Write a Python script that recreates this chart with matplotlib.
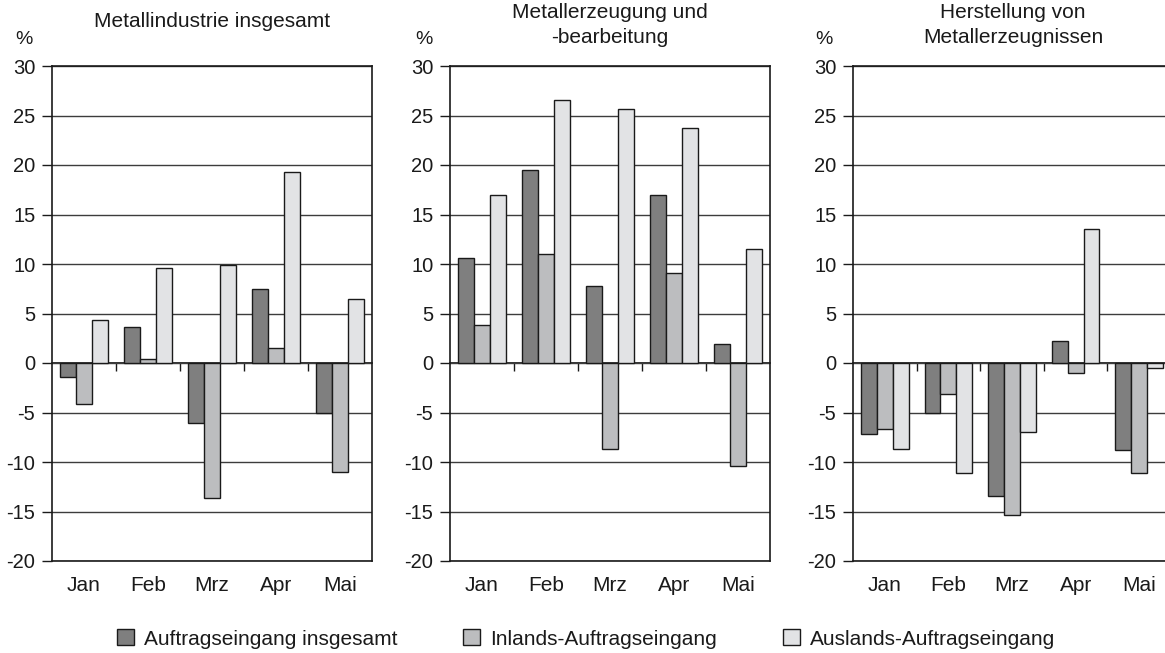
import numpy as np
import matplotlib
matplotlib.use("Agg")
import matplotlib.pyplot as plt
from matplotlib.patches import Patch

plt.rcParams['font.family'] = ['Liberation Sans', 'DejaVu Sans']
plt.rcParams['text.color'] = '#1a1a1a'
plt.rcParams['axes.unicode_minus'] = False

# --- Daten -----------------------------------------------------------
monate = ['Jan', 'Feb', 'Mrz', 'Apr', 'Mai']
serien = ['Auftragseingang insgesamt', 'Inlands-Auftragseingang', 'Auslands-Auftragseingang']
titel = ['Metallindustrie insgesamt',
         'Metallerzeugung und\n-bearbeitung',
         'Herstellung von\nMetallerzeugnissen']

# Metallindustrie insgesamt
p1_gesamt = [-1.4, 3.6, -6.1, 7.5, -5.1]
p1_inland = [-4.1, 0.4, -13.6, 1.5, -11.0]
p1_ausland = [4.3, 9.6, 9.9, 19.3, 6.5]

# Metallerzeugung und -bearbeitung
p2_gesamt = [10.6, 19.5, 7.8, 17.0, 1.9]
p2_inland = [3.8, 11.0, -8.7, 9.1, -10.4]
p2_ausland = [17.0, 26.6, 25.7, 23.7, 11.5]

# Herstellung von Metallerzeugnissen
p3_gesamt = [-7.2, -5.1, -13.4, 2.2, -8.8]
p3_inland = [-6.7, -3.1, -15.4, -1.0, -11.1]
p3_ausland = [-8.7, -11.1, -7.0, 13.5, -0.5]

panels = [(p1_gesamt, p1_inland, p1_ausland),
          (p2_gesamt, p2_inland, p2_ausland),
          (p3_gesamt, p3_inland, p3_ausland)]

farben = ['#7f7f7f', '#bcbdbf', '#e2e3e5']

# --- Figur -----------------------------------------------------------
W, H = 1165, 653
fig = plt.figure(figsize=(W / 100, H / 100), dpi=100)

lefts = [52, 450, 853]
breite = [320, 320, 318]
titel_top = [12, 3, 3]
prozent_x = [24, 424, 824]

x = np.arange(len(monate))
bw = 0.25

for i, (daten, tt) in enumerate(zip(panels, titel)):
    ax = fig.add_axes([lefts[i] / W, 1 - 561 / H, breite[i] / W, 495 / H])
    ax.set_axisbelow(True)
    for k, werte in enumerate(daten):
        ax.bar(x + (k - 1) * bw, werte, width=bw, color=farben[k],
               edgecolor='#1a1a1a', linewidth=1.0, zorder=2)

    ax.set_xlim(-0.5, len(monate) - 0.5)
    ax.set_ylim(-20, 30)
    ax.set_yticks(np.arange(-20, 31, 5))
    ax.yaxis.grid(True, color='#3c3c3c', linewidth=1.0)
    ax.set_xticks(x)
    ax.set_xticklabels(monate)
    ax.tick_params(axis='x', length=0, pad=11, labelsize=15, colors='#1a1a1a')
    ax.tick_params(axis='y', length=7, width=1.0, pad=5, labelsize=14.5,
                   colors='#1a1a1a')
    for s in ax.spines.values():
        s.set_color('#1a1a1a')
        s.set_linewidth(1.2)

    # Nulllinie mit Trennstrichen zwischen den Monaten
    sec = ax.secondary_xaxis(0.4)
    sec.set_xticks(x[:-1] + 0.5)
    sec.set_xticklabels([])
    sec.tick_params(axis='x', direction='out', length=6, width=1.0, color='#1a1a1a')
    sec.spines['bottom'].set_color('#111111')
    sec.spines['bottom'].set_linewidth(1.2)

    fig.text((lefts[i] + 160) / W, 1 - titel_top[i] / H, tt,
             ha='center', va='top', fontsize=15, linespacing=1.4)
    fig.text(prozent_x[i] / W, 1 - 40 / H, '%', ha='center', va='center', fontsize=14)

# --- Legende ---------------------------------------------------------
leg_x = [117, 463, 783]
for k, name in enumerate(serien):
    handle = Patch(facecolor=farben[k], edgecolor='#1a1a1a', linewidth=1.0)
    fig.legend([handle], [name], loc='center left',
               bbox_to_anchor=(leg_x[k] / W, 1 - 639 / H), frameon=False,
               fontsize=15, handlelength=0.8, handleheight=0.8, handletextpad=0.5,
               borderpad=0, borderaxespad=0)

fig.savefig('out.png', dpi=100)
